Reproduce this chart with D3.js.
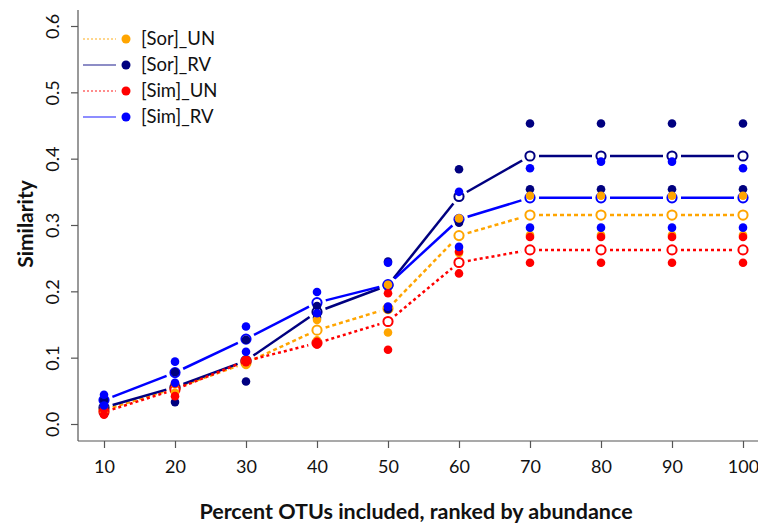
<!DOCTYPE html>
<meta charset="utf-8">
<script src="https://cdnjs.cloudflare.com/ajax/libs/d3/7.8.5/d3.min.js"></script>
<style>
    body { margin: 0; background: #fff; }
    .axis text { font-family: Lato, "Open Sans", sans-serif; font-size: 18px; fill: #111; }
    .axis line { stroke: #555; stroke-width: 1.2; }
    .frame { stroke: #555; stroke-width: 1.2; }
    .title { font-family: Lato, "Open Sans", sans-serif; font-weight: bold; fill: #111; }
    .legend text { font-family: Lato, "Open Sans", sans-serif; font-size: 18.5px; fill: #111; }
</style>
<body>
<svg class="chart"></svg>
<script>
    ///////////////////////
    // Data
    var percents = [10, 20, 30, 40, 50, 60, 70, 80, 90, 100];
    var yTicks = [0, 0.1, 0.2, 0.3, 0.4, 0.5, 0.6];

    // [Sor]_UN
    var sorUN_mean = [0.021, 0.054, 0.092, 0.1415, 0.174, 0.284, 0.315, 0.315, 0.315, 0.315];
    var sorUN_a = [0.026, 0.060, 0.095, 0.157, 0.210, 0.310, 0.344, 0.344, 0.344, 0.344];
    var sorUN_b = [0.017, 0.047, 0.089, 0.126, 0.138, 0.258, 0.285, 0.285, 0.285, 0.285];
    // [Sor]_RV
    var sorRV_mean = [0.025, 0.0555, 0.0955, 0.169, 0.209, 0.343, 0.404, 0.404, 0.404, 0.404];
    var sorRV_a = [0.036, 0.078, 0.127, 0.178, 0.245, 0.384, 0.453, 0.453, 0.453, 0.453];
    var sorRV_b = [0.015, 0.033, 0.064, 0.160, 0.173, 0.3035, 0.354, 0.354, 0.354, 0.354];
    // [Sim]_UN
    var simUN_mean = [0.018, 0.052, 0.095, 0.122, 0.1545, 0.2435, 0.2625, 0.2625, 0.2625, 0.2625];
    var simUN_a = [0.022, 0.061, 0.0965, 0.124, 0.197, 0.260, 0.282, 0.282, 0.282, 0.282];
    var simUN_b = [0.014, 0.042, 0.093, 0.120, 0.112, 0.227, 0.243, 0.243, 0.243, 0.243];
    // [Sim]_RV
    var simRV_mean = [0.036, 0.0775, 0.128, 0.183, 0.210, 0.3085, 0.341, 0.341, 0.341, 0.341];
    var simRV_a = [0.044, 0.094, 0.147, 0.199, 0.243, 0.350, 0.3855, 0.3955, 0.3955, 0.3855];
    var simRV_b = [0.028, 0.062, 0.109, 0.167, 0.177, 0.267, 0.296, 0.296, 0.296, 0.296];

    var series = [
        { name: "[Sor]_UN", color: "#FFA500", dash: "4,3", mean: sorUN_mean, reps: [sorUN_a, sorUN_b] },
        { name: "[Sor]_RV", color: "#000080", dash: null, mean: sorRV_mean, reps: [sorRV_a, sorRV_b] },
        { name: "[Sim]_UN", color: "#FF0000", dash: "3,3", mean: simUN_mean, reps: [simUN_a, simUN_b] },
        { name: "[Sim]_RV", color: "#0000FF", dash: null, mean: simRV_mean, reps: [simRV_a, simRV_b] }
    ];
    // order the filled dots are drawn in
    var dotOrder = [1, 0, 2, 3];

    ///////////////////////
    // Chart Size Setup
    var W = 758, H = 524;
    var plot = { left: 78, right: 770, top: 10, bottom: 441 };

    var svg = d3.select(".chart")
        .attr("width", W)
        .attr("height", H);

    ///////////////////////
    // Scales
    var x = d3.scaleLinear().domain([10, 100]).range([104, 743]);
    var y = d3.scaleLinear().domain([0, 0.6]).range([424, 26]);

    ///////////////////////
    // Axes (R style, L-shaped box)
    svg.append("line").attr("class", "frame")
        .attr("x1", plot.left).attr("x2", plot.left)
        .attr("y1", plot.top).attr("y2", plot.bottom);
    svg.append("line").attr("class", "frame")
        .attr("x1", plot.left).attr("x2", plot.right)
        .attr("y1", plot.bottom).attr("y2", plot.bottom);

    var yAxis = svg.append("g")
        .attr("class", "axis")
        .attr("transform", "translate(" + plot.left + ",0)")
        .call(d3.axisLeft(y).tickValues(yTicks).tickSize(7).tickFormat(d3.format(".1f")));
    yAxis.select(".domain").remove();
    yAxis.selectAll("text")
        .attr("transform", "rotate(-90)")
        .attr("x", 0)
        .attr("y", -19)
        .attr("dy", null)
        .attr("text-anchor", "middle");

    var xAxis = svg.append("g")
        .attr("class", "axis")
        .attr("transform", "translate(0," + plot.bottom + ")")
        .call(d3.axisBottom(x).tickValues(percents).tickSize(7));
    xAxis.select(".domain").remove();
    xAxis.selectAll("text").attr("y", 32).attr("dy", null);

    ///////////////////////
    // Titles
    svg.append("text")
        .attr("class", "title")
        .attr("x", 416)
        .attr("y", 519)
        .attr("text-anchor", "middle")
        .style("font-size", "21.5px")
        .text("Percent OTUs included, ranked by abundance");

    svg.append("text")
        .attr("class", "title")
        .attr("transform", "translate(33,224) rotate(-90)")
        .attr("text-anchor", "middle")
        .style("font-size", "21px")
        .text("Similarity");

    var marks = svg.append("g");

    ///////////////////////
    // Mean lines (type "b": gaps around the points) and open circles
    var gap = 9;
    series.forEach(function(s) {
        var g = marks.append("g");
        var segs = d3.pairs(s.mean.map(function(d, j) { return [x(percents[j]), y(d)]; }));
        g.selectAll("line")
            .data(segs)
            .enter().append("line")
            .each(function(p) {
                var dx = p[1][0] - p[0][0], dy = p[1][1] - p[0][1];
                var len = Math.sqrt(dx * dx + dy * dy);
                var ux = dx / len, uy = dy / len;
                d3.select(this)
                    .attr("x1", p[0][0] + ux * gap).attr("y1", p[0][1] + uy * gap)
                    .attr("x2", p[1][0] - ux * gap).attr("y2", p[1][1] - uy * gap);
            })
            .attr("stroke", s.color)
            .attr("stroke-width", 2.5)
            .attr("stroke-dasharray", s.dash);

        g.selectAll("circle")
            .data(s.mean)
            .enter().append("circle")
            .attr("cx", function(d, j) { return x(percents[j]); })
            .attr("cy", function(d) { return y(d); })
            .attr("r", 4.6)
            .attr("fill", "#fff")
            .attr("stroke", s.color)
            .attr("stroke-width", 2);
    });

    ///////////////////////
    // Replicate dots, drawn over the means
    dotOrder.forEach(function(i) {
        var s = series[i];
        s.reps.forEach(function(rep) {
            marks.append("g").selectAll("circle")
                .data(rep)
                .enter().append("circle")
                .attr("cx", function(d, j) { return x(percents[j]); })
                .attr("cy", function(d) { return y(d); })
                .attr("r", 4.3)
                .attr("fill", s.color);
        });
    });

    ///////////////////////
    // Legend
    var legend = svg.append("g").attr("class", "legend");
    series.forEach(function(s, i) {
        var row = legend.append("g").attr("transform", "translate(0," + (39 + i * 26) + ")");
        row.append("line")
            .attr("x1", 83).attr("x2", 116)
            .attr("stroke", s.color)
            .attr("stroke-opacity", 0.6)
            .attr("stroke-width", 1.6)
            .attr("stroke-dasharray", s.dash ? "2,2" : null);
        row.append("circle")
            .attr("cx", 126)
            .attr("r", 4.5)
            .attr("fill", s.color);
        row.append("text")
            .attr("x", 141)
            .attr("dy", "0.35em")
            .text(s.name);
    });
</script>
</body>
